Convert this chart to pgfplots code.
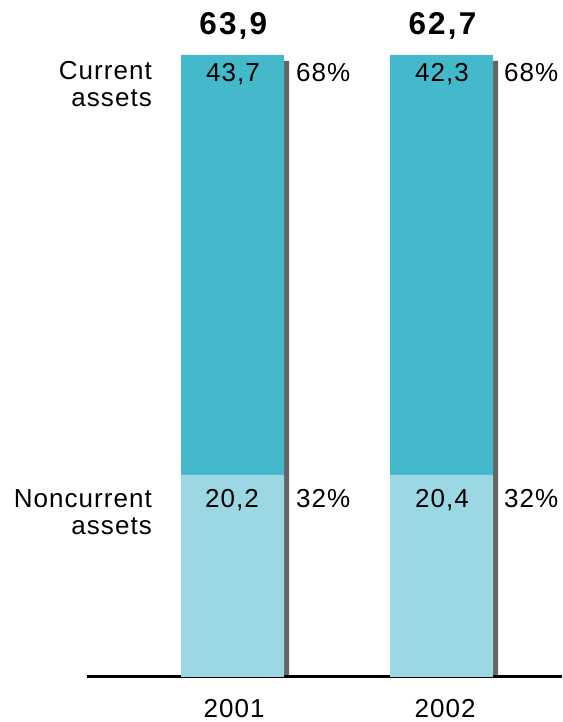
\documentclass[border=0pt]{standalone}
\usepackage{pgfplots}
\pgfplotsset{compat=1.18}
\usepackage{fontspec}
\setmainfont[LetterSpace=4]{Liberation Sans}
\definecolor{cur}{HTML}{45B9CC}
\definecolor{noncur}{HTML}{9CD7E4}
\definecolor{shad}{HTML}{646464}
\newcommand{\lf}{\fontsize{26}{30}\selectfont}
\newcommand{\bff}{\bfseries\fontsize{31.5}{36}\selectfont\addfontfeature{LetterSpace=7}}
\begin{document}
\begin{tikzpicture}[x=1pt,y=1pt]
\useasboundingbox (0,0) rectangle (562,722);
\pgfplotsset{base/.style={scale only axis, width=475pt, height=622pt, xmin=87, xmax=562, ymin=0, ymax=100, at={(87pt,45pt)}, anchor=south west, clip=false}}
\begin{axis}[base, axis lines=none, ybar, bar width=5pt]
\addplot[fill=shad, draw=none] coordinates {(286.5,99.04) (495.5,99.04)};
\end{axis}
\begin{axis}[base, ybar stacked, bar width=103pt, axis x line*=bottom, axis y line=none,
  x axis line style={line width=3pt, -}, xtick={234,445}, xticklabels={2001,2002},
  major tick length=0, xticklabel style={anchor=base, yshift=-40pt, font=\lf},
  /pgf/number format/assume math mode=true]
\addplot[fill=noncur, draw=none] coordinates {(232.5,32.5) (441.5,32.5)};
\addplot[fill=cur, draw=none] coordinates {(232.5,67.5) (441.5,67.5)};
\end{axis}
\begin{axis}[base, axis lines=none]
\node[anchor=base, font=\bff] at (axis cs:233.3,103.22) {63,9};
\node[anchor=base, font=\bff] at (axis cs:442.5,103.22) {62,7};
\node[anchor=base, font=\lf] at (axis cs:233,95.66) {43,7};
\node[anchor=base, font=\lf] at (axis cs:442,95.66) {42,3};
\node[anchor=base, font=\lf] at (axis cs:232,27.17) {20,2};
\node[anchor=base, font=\lf] at (axis cs:442,27.17) {20,4};
\node[anchor=base west, font=\lf, inner sep=0pt] at (axis cs:296,95.66) {68\%};
\node[anchor=base west, font=\lf, inner sep=0pt] at (axis cs:504,95.66) {68\%};
\node[anchor=base west, font=\lf, inner sep=0pt] at (axis cs:296,27.17) {32\%};
\node[anchor=base west, font=\lf, inner sep=0pt] at (axis cs:504,27.17) {32\%};
\node[anchor=base east, font=\lf, inner sep=0pt] at (axis cs:152,95.98) {Current};
\node[anchor=base east, font=\lf, inner sep=0pt] at (axis cs:152,91.64) {assets};
\node[anchor=base east, font=\lf, inner sep=0pt] at (axis cs:152,27.17) {Noncurrent};
\node[anchor=base east, font=\lf, inner sep=0pt] at (axis cs:152,22.83) {assets};
\end{axis}
\end{tikzpicture}
\end{document}
